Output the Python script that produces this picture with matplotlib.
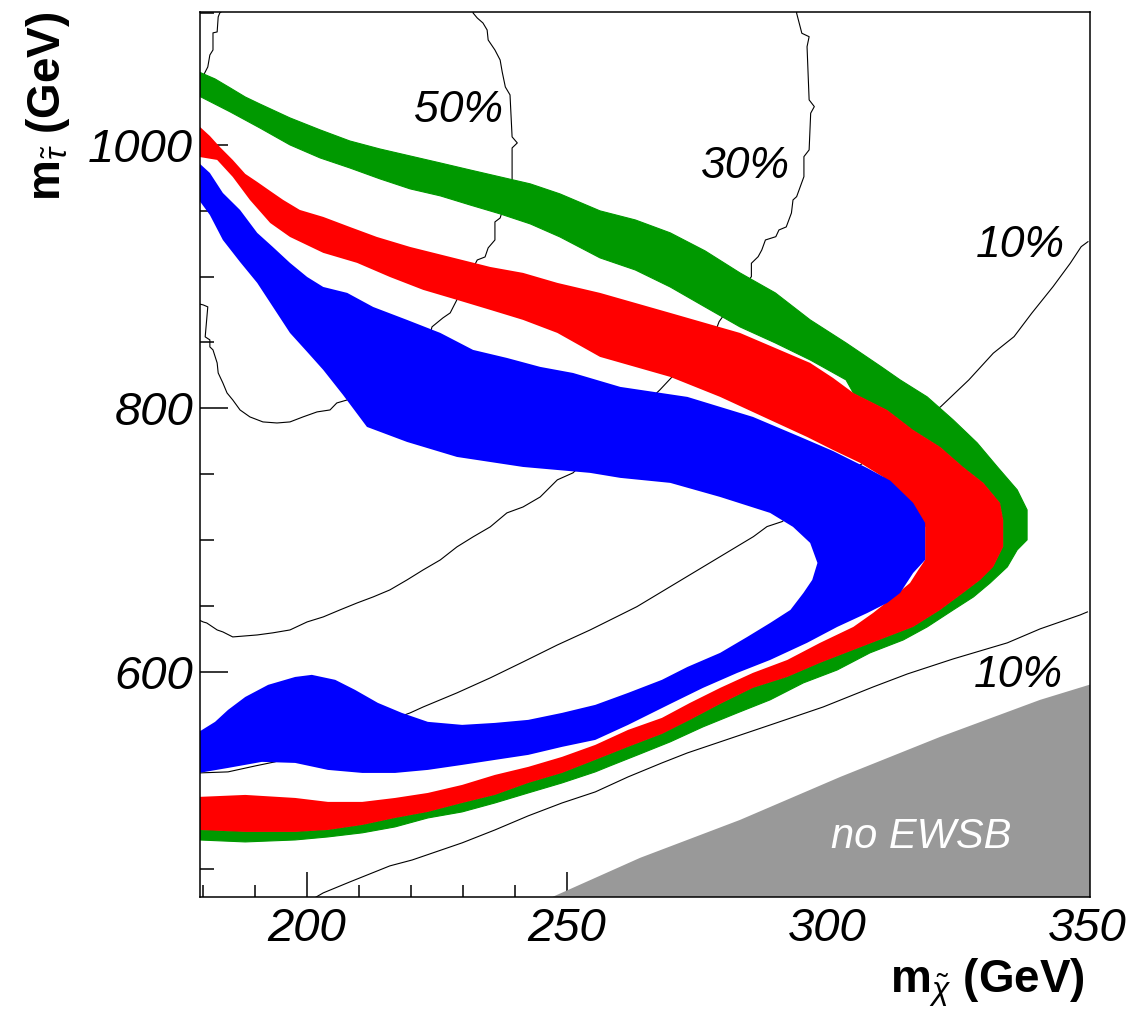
import numpy as np
import matplotlib
matplotlib.use("Agg")
import matplotlib.pyplot as plt

plt.rcParams['font.family'] = 'Liberation Sans'
plt.rcParams['mathtext.fontset'] = 'custom'
plt.rcParams['mathtext.rm'] = 'Liberation Sans'
plt.rcParams['mathtext.it'] = 'Liberation Sans:italic'
plt.rcParams['mathtext.bf'] = 'Liberation Sans:bold'

# ---- band outlines (m_chi, m_stau) in GeV ----
green_outer = [(179.3, 1055.4), (182.4, 1050.1), (185.3, 1043.3), (188.2, 1036.4), (191.0, 1031.1),
               (196.8, 1020.5), (202.6, 1011.4), (208.3, 1003.0), (214.1, 996.9), (219.9, 991.6),
               (225.7, 986.3), (231.4, 981.0), (237.2, 975.7), (243.0, 970.4), (248.7, 962.8),
               (256.4, 949.9), (263.2, 943.0), (269.9, 933.2), (276.6, 919.5), (283.3, 902.8),
               (290.1, 887.6), (296.8, 867.1), (303.7, 849.6), (310.5, 831.4), (314.1, 821.5),
               (319.3, 808.6), (324.3, 791.1), (328.9, 773.7), (332.8, 755.4), (336.6, 738.0),
               (338.5, 722.8), (338.5, 700.0), (336.6, 692.4), (334.7, 679.5), (331.4, 667.3),
               (328.2, 656.7), (324.3, 646.8), (319.3, 633.9), (314.7, 624.0), (308.3, 614.2),
               (302.0, 601.2), (295.5, 591.4), (289.1, 578.5), (282.8, 568.6), (276.2, 558.0),
               (269.9, 546.6), (264.1, 537.4), (258.3, 528.3), (255.5, 523.8), (249.1, 515.4),
               (242.6, 507.8), (236.2, 500.2), (229.9, 493.4), (223.3, 488.8), (217.0, 482.0),
               (210.7, 477.5), (204.1, 474.4), (197.8, 472.1), (188.2, 470.6), (179.3, 472.1)]

green_inner_upper = [(179.3, 1037.2), (185.3, 1025.1), (191.0, 1012.9), (196.8, 1000.0), (202.6, 990.1),
                     (208.3, 982.5), (214.1, 974.2), (219.9, 966.6), (225.7, 961.3), (231.4, 954.4),
                     (237.2, 947.6), (243.0, 940.0), (248.7, 930.1), (256.4, 914.2), (263.2, 905.0),
                     (269.9, 892.1), (276.6, 876.9), (283.3, 861.8), (290.1, 849.6), (296.8, 836.7),
                     (303.7, 821.5)]

red_outer_upper = [(179.3, 1014.4), (181.4, 1006.8), (183.3, 998.5), (185.8, 988.6), (188.2, 978.0),
                   (190.5, 971.9), (193.0, 965.0), (195.5, 958.2), (198.7, 950.6), (203.2, 945.3),
                   (208.3, 937.7), (213.5, 930.1), (219.9, 922.5), (227.6, 914.9), (235.3, 907.3),
                   (241.6, 902.8), (248.2, 895.2), (256.4, 887.6), (269.9, 872.4), (283.3, 857.2),
                   (296.8, 834.4), (301.2, 823.0)]

red_outer_lower = [(305.1, 811.6), (311.6, 798.7), (316.6, 783.5), (321.8, 770.6), (326.2, 755.4),
                   (330.1, 743.3), (333.3, 728.1), (333.9, 715.2), (333.9, 694.7), (332.0, 679.5),
                   (329.5, 669.6), (326.2, 659.7), (321.8, 646.8), (316.6, 633.9), (311.6, 626.3),
                   (305.1, 616.4), (298.7, 606.6), (292.4, 595.9), (285.8, 587.6), (279.5, 575.4),
                   (273.7, 563.3), (268.3, 552.6), (261.8, 542.8), (255.5, 532.9), (249.1, 523.0),
                   (242.6, 515.4), (236.2, 506.3), (229.9, 500.2), (223.3, 493.4), (217.0, 488.8),
                   (210.7, 483.5), (204.1, 479.7), (197.8, 478.2), (188.2, 478.2), (179.3, 479.7)]

red_inner = [(179.3, 990.9), (182.8, 988.6), (185.8, 975.7), (189.1, 958.2), (193.0, 940.7),
             (196.8, 930.1), (203.2, 918.0), (209.7, 910.4), (216.0, 899.7), (222.4, 889.9),
             (228.9, 882.3), (235.3, 874.7), (241.6, 867.1), (248.2, 857.2), (256.4, 839.0),
             (269.9, 823.8), (279.5, 808.6), (289.1, 791.1), (296.2, 778.2), (301.2, 768.3),
             (306.4, 758.5), (310.8, 747.8), (314.7, 732.6), (317.6, 720.5), (318.9, 709.9),
             (318.9, 684.8), (317.6, 677.2), (316.0, 667.3), (312.8, 656.7), (308.9, 644.5),
             (305.1, 633.9), (298.7, 621.8), (292.4, 608.8), (285.8, 599.0), (279.5, 587.6),
             (273.7, 576.2), (268.3, 564.8), (261.8, 555.7), (255.5, 544.3), (249.1, 535.2),
             (242.6, 527.6), (236.2, 521.5), (229.9, 513.9), (223.3, 507.8), (217.0, 504.0),
             (210.7, 501.0), (204.1, 501.0), (197.8, 504.0), (188.2, 506.3), (179.3, 504.8)]

blue_outer = [(179.3, 986.3), (181.4, 978.7), (183.9, 963.5), (187.2, 950.6), (190.5, 933.2),
              (193.5, 922.5), (196.8, 910.4), (200.1, 899.7), (203.2, 892.1), (207.8, 887.6),
              (212.8, 876.9), (219.3, 867.1), (225.7, 857.2), (232.0, 844.3), (238.5, 838.2),
              (244.9, 831.4), (251.2, 826.8), (260.3, 816.2), (273.2, 808.6), (285.8, 793.4),
              (294.9, 778.2), (301.2, 767.5), (307.8, 754.5), (312.2, 745.0), (316.6, 728.1),
              (318.9, 712.9), (318.9, 684.8), (316.6, 674.9), (314.1, 659.7), (311.6, 652.1),
              (307.8, 644.5), (302.0, 633.9), (296.2, 621.8), (289.1, 608.8), (282.8, 599.0),
              (276.2, 587.6), (269.9, 575.4), (261.8, 559.5), (255.5, 548.1), (249.1, 542.8),
              (242.6, 536.7), (236.2, 532.9), (229.9, 529.1), (223.3, 525.3), (217.0, 523.0),
              (210.7, 523.0), (204.1, 525.3), (197.8, 530.6), (191.4, 531.4), (184.9, 526.8),
              (179.3, 523.0)]

blue_inner = [(179.3, 958.2), (181.4, 946.8), (183.9, 927.8), (187.2, 911.1), (190.5, 895.2),
              (193.9, 874.7), (196.8, 857.2), (200.1, 842.8), (203.2, 829.1), (207.0, 810.1),
              (211.6, 785.8), (219.3, 774.4), (228.9, 763.0), (241.6, 755.4), (254.5, 750.9),
              (260.3, 747.1), (269.9, 743.3), (279.5, 732.6), (289.1, 720.5), (293.5, 709.9),
              (296.8, 697.7), (298.2, 682.5), (297.2, 669.6), (295.5, 659.7), (293.0, 646.8),
              (289.1, 636.9), (284.7, 626.3), (279.5, 614.2), (273.2, 603.5), (268.3, 593.7),
              (261.8, 583.8), (255.5, 574.7), (249.1, 568.6), (242.6, 563.3), (236.2, 561.0),
              (229.9, 559.5), (223.3, 561.8), (218.3, 568.6), (213.7, 576.2), (209.3, 586.1),
              (205.5, 593.7), (201.0, 597.5), (197.8, 595.9), (192.6, 589.9), (188.2, 580.7),
              (184.9, 570.9), (182.4, 561.8), (179.3, 554.2)]

no_ewsb = [(246.8, 428.0), (264.1, 458.5), (283.3, 487.3), (302.6, 520.0), (321.8, 550.4),
           (341.0, 578.5), (351.0, 590.6), (351.0, 428.0)]

# ---- contour lines ----
c50 = [(183.7, 1101.5), (183.3, 1100.2), (183.0, 1097.2), (182.8, 1085.8), (182.0, 1085.1),
       (182.0, 1072.1), (181.4, 1068.3), (181.0, 1059.2), (178.5, 1040.0), (178.5, 880.0),
       (180.1, 878.5), (181.0, 877.0), (180.5, 854.2), (181.4, 851.9), (181.4, 846.6),
       (182.0, 844.3), (182.8, 834.4), (183.0, 826.8), (183.9, 819.2), (184.7, 811.6),
       (185.8, 806.3), (187.2, 798.7), (189.1, 793.4), (191.6, 789.6), (194.3, 788.8),
       (196.8, 789.6), (199.3, 793.4), (202.0, 797.2), (204.5, 798.7), (205.8, 804.0),
       (207.8, 806.3), (221.8, 851.9), (223.7, 855.7), (224.1, 861.8), (226.2, 868.6),
       (227.6, 872.4), (232.8, 912.6), (234.3, 914.9), (234.9, 921.8), (236.2, 927.8),
       (236.2, 941.5), (237.2, 944.5), (239.5, 973.4), (239.5, 997.7), (240.5, 1001.5),
       (239.5, 1006.1), (239.1, 1038.0), (238.2, 1044.0), (237.6, 1055.4), (237.2, 1064.5),
       (236.2, 1072.1), (234.9, 1079.7), (234.7, 1087.3), (233.9, 1092.6), (232.8, 1096.4),
       (232.0, 1100.2), (232.0, 1101.5)]

c30 = [(294.2, 1101.5), (294.2, 1100.0), (295.2, 1084.8), (296.6, 1082.2), (296.2, 1074.6),
       (296.6, 1034.2), (297.6, 1029.1), (296.9, 1024.1), (296.6, 996.2), (295.6, 991.1),
       (295.6, 975.9), (294.2, 960.7), (293.5, 958.2), (293.2, 948.3), (292.2, 937.7),
       (290.8, 935.4), (290.2, 930.3), (288.2, 927.8), (287.5, 920.2), (286.8, 915.1),
       (285.5, 910.1), (285.5, 900.0), (279.3, 865.8), (278.7, 859.5), (270.3, 824.0),
       (267.9, 813.9), (251.2, 750.9), (248.2, 745.6), (244.9, 732.6), (241.6, 725.0),
       (238.5, 720.5), (235.3, 709.9), (232.0, 702.3), (228.9, 694.7), (225.7, 684.8),
       (222.4, 677.2), (219.3, 669.6), (216.0, 662.0), (212.8, 656.7), (209.7, 652.1),
       (206.4, 646.8), (203.2, 641.5), (200.1, 637.7), (196.8, 631.6), (193.5, 629.4),
       (190.5, 627.8), (185.8, 626.3), (183.9, 630.1), (182.8, 631.6), (180.8, 636.9),
       (180.1, 637.7), (179.3, 639.2)]

c10_upper = [(350.2, 926.5), (348.9, 922.7), (346.8, 910.1), (343.5, 892.4), (339.4, 872.2),
             (336.0, 854.4), (332.0, 841.8), (327.3, 821.5), (321.9, 801.2), (291.4, 713.9),
             (288.5, 710.1), (285.9, 702.5), (282.7, 694.9), (279.5, 687.3), (276.3, 679.7),
             (273.1, 672.1), (269.9, 664.5), (266.7, 656.9), (263.5, 649.3), (260.3, 643.0),
             (254.5, 631.6), (248.2, 620.2), (241.6, 607.3), (235.3, 595.2), (228.9, 583.8),
             (222.4, 573.1), (219.9, 568.6), (193.9, 531.4), (190.1, 528.3), (184.9, 523.8),
             (179.3, 523.0)]

c10_lower = [(350.1, 645.3), (348.7, 643.0), (341.0, 632.4), (334.7, 621.8), (324.3, 609.6),
             (315.5, 598.2), (308.9, 588.3), (299.3, 573.1), (289.7, 560.2), (278.9, 545.8),
             (273.2, 538.2), (268.3, 530.6), (261.8, 520.0), (255.5, 508.6), (249.1, 500.2),
             (242.6, 490.4), (236.2, 479.7), (229.9, 469.9), (220.3, 456.9), (216.0, 452.4),
             (208.3, 440.2), (203.2, 431.9), (201.2, 427.3)]

contour_labels = ['50%', '30%', '10%', '10%']
contour_label_pos = [(229.2, 1017.5), (284.3, 974.9), (337.2, 914.9), (336.8, 588.3)]

x_major = [200, 250, 300, 350]
x_minor = list(range(180, 350, 10))
y_major = [600, 800, 1000]
y_minor = list(range(450, 1101, 50))


def xy(pts):
    a = np.asarray(pts, dtype=float)
    return a[:, 0], a[:, 1]


fig = plt.figure(figsize=(11.48, 10.11), dpi=100)
ax = fig.add_axes([0.1742, 0.1128, 0.7753, 0.8754])
ax.set_axisbelow(True)

# contours sit underneath the coloured bands
for c in (c50, c30, c10_upper, c10_lower):
    ax.plot(*xy(c), color='black', lw=0.8, zorder=1.5)

# green band: its inner edge follows the red band once they touch
gx = np.concatenate([xy(green_outer)[0], xy(red_outer_lower)[0][::-1], xy(green_inner_upper)[0][::-1]])
gy = np.concatenate([xy(green_outer)[1], xy(red_outer_lower)[1][::-1], xy(green_inner_upper)[1][::-1]])
ax.fill(gx, gy, fc='#009900', ec='#009900', lw=0.8, zorder=2.0)

rx = np.concatenate([xy(red_outer_upper)[0], xy(red_outer_lower)[0], xy(red_inner)[0][::-1]])
ry = np.concatenate([xy(red_outer_upper)[1], xy(red_outer_lower)[1], xy(red_inner)[1][::-1]])
ax.fill(rx, ry, fc='#ff0000', ec='none', lw=0, zorder=2.1)

bx = np.concatenate([xy(blue_outer)[0], xy(blue_inner)[0][::-1]])
by = np.concatenate([xy(blue_outer)[1], xy(blue_inner)[1][::-1]])
ax.fill(bx, by, fc='#0000ff', ec='none', lw=0, zorder=2.2)

ax.fill(*xy(no_ewsb), fc='#999999', ec='none', lw=0, zorder=2.0)
ax.text(318.2, 466.1, 'no EWSB', color='white', fontsize=30, fontstyle='italic',
        ha='center', va='baseline', zorder=3)

for lab, (tx, ty) in zip(contour_labels, contour_label_pos):
    ax.text(tx, ty, lab, fontsize=32, fontstyle='italic', ha='center', va='baseline', zorder=3)

ax.set_xlim(179.5, 350.6)
ax.set_ylim(428.8, 1101)
ax.set_xticks(x_major)
ax.set_xticks(x_minor, minor=True)
ax.set_yticks(y_major)
ax.set_yticks(y_minor, minor=True)
ax.set_xticklabels([str(v) for v in x_major], fontsize=34, fontstyle='italic')
ax.set_yticklabels([str(v) for v in y_major], fontsize=34, fontstyle='italic')
ax.tick_params(axis='x', which='major', direction='in', length=18, width=1.1, pad=7)
ax.tick_params(axis='x', which='minor', direction='in', length=8.6, width=1.1)
ax.tick_params(axis='y', which='major', direction='in', length=20, width=1.1, pad=5)
ax.tick_params(axis='y', which='minor', direction='in', length=10, width=1.1)
for s in ax.spines.values():
    s.set_linewidth(1.1)

fig.text(1085 / 1148, 0.018, r'$\mathbf{m}_{\tilde{\chi}}\ \mathbf{(GeV)}$', fontsize=33,
         ha='right', va='baseline')
fig.text(48 / 1148, 1 - 12 / 1011, r'$\mathbf{m}_{\tilde{\tau}}\ \mathbf{(GeV)}$', fontsize=33,
         rotation=90, ha='center', va='top')

fig.savefig('out.png', dpi=100)
